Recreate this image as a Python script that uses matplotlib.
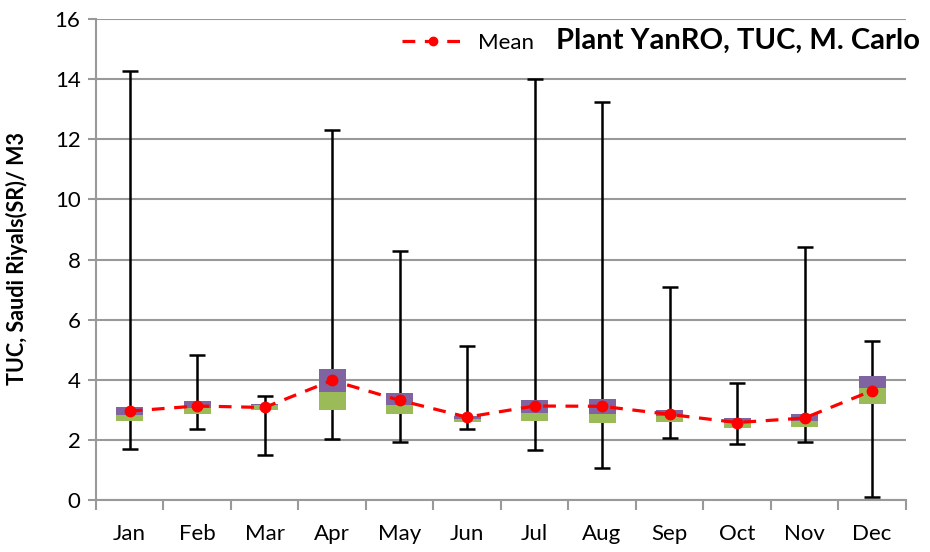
import matplotlib.pyplot as plt
import numpy as np

months = ["Jan", "Feb", "Mar", "Apr", "May", "Jun", "Jul", "Aug", "Sep", "Oct", "Nov", "Dec"]
min_vals = [1.70, 2.38, 1.50, 2.02, 1.93, 2.37, 1.67, 1.07, 2.08, 1.85, 1.94, 0.12]
q1_vals = [2.63, 2.88, 3.01, 3.01, 2.88, 2.61, 2.63, 2.57, 2.59, 2.39, 2.44, 3.18]
median_vals = [2.84, 3.07, 3.15, 3.59, 3.15, 2.70, 2.90, 2.88, 2.80, 2.55, 2.62, 3.72]
q3_vals = [3.10, 3.30, 3.21, 4.37, 3.55, 2.81, 3.32, 3.37, 2.99, 2.74, 2.86, 4.13]
max_vals = [14.27, 4.84, 3.47, 12.30, 8.28, 5.12, 14.00, 13.24, 7.09, 3.90, 8.41, 5.28]
mean_vals = [2.96, 3.13, 3.08, 3.98, 3.32, 2.76, 3.13, 3.12, 2.85, 2.58, 2.73, 3.64]

plt.rcParams['font.family'] = ['Lato', 'DejaVu Sans']

fig = plt.figure(figsize=(9.3, 5.52), dpi=100)
ax = fig.add_axes([0.103, 0.094, 0.871, 0.8716])

x = np.arange(len(months))
q1 = np.array(q1_vals)
med = np.array(median_vals)
q3 = np.array(q3_vals)

# whiskers (min..max)
ax.errorbar(x, med, yerr=[med - np.array(min_vals), np.array(max_vals) - med],
            fmt="none", ecolor="black", elinewidth=1.8, capsize=6, capthick=1.8, zorder=2)

# boxes: q1-median green, median-q3 purple
ax.bar(x, med - q1, bottom=q1, width=0.4, color="#9BBB59", zorder=3)
ax.bar(x, q3 - med, bottom=med, width=0.4, color="#8064A2", zorder=3)

# mean
ax.plot(x, mean_vals, color="red", linestyle=(0, (4, 3)), linewidth=2.3,
        marker="o", markersize=7.5, label="Mean", zorder=4)

ax.set_xlim(-0.5, len(months) - 0.5)
ax.set_ylim(0, 16)
ax.set_yticks(np.arange(0, 17, 2))
ax.set_xticks(x)
ax.set_xticklabels(months)
ax.set_xticks(np.arange(-0.5, len(months), 1), minor=True)
ax.tick_params(axis="x", which="major", length=0, labelsize=16, pad=17)
ax.tick_params(axis="x", which="minor", length=7, color="#999999", width=1.5)
ax.tick_params(axis="y", length=6, color="#999999", width=1.5, labelsize=16, pad=5)

ax.grid(axis="y", color="#999999", linewidth=1.5, zorder=0)
ax.set_axisbelow(True)
for s in ["top", "right"]:
    ax.spines[s].set_visible(False)
for s in ["left", "bottom"]:
    ax.spines[s].set_color("#999999")
    ax.spines[s].set_linewidth(1.5)

ax.set_ylabel("TUC, Saudi Riyals(SR)/ M3", fontsize=15.5, fontweight="bold")
ax.yaxis.set_label_coords(-0.084, 0.503)

fig.legend(*ax.get_legend_handles_labels(), loc="center left",
           bbox_to_anchor=(402 / 930, 1 - 43 / 552), frameon=False, fontsize=16,
           handlelength=2.8, handletextpad=0.6, borderpad=0, borderaxespad=0,
           numpoints=1, markerscale=0.8)
fig.text(920 / 930, 1 - 49 / 552, "Plant YanRO, TUC, M. Carlo",
         ha="right", va="baseline", fontsize=21, fontweight="bold")

fig.savefig("out.png", dpi=100)
